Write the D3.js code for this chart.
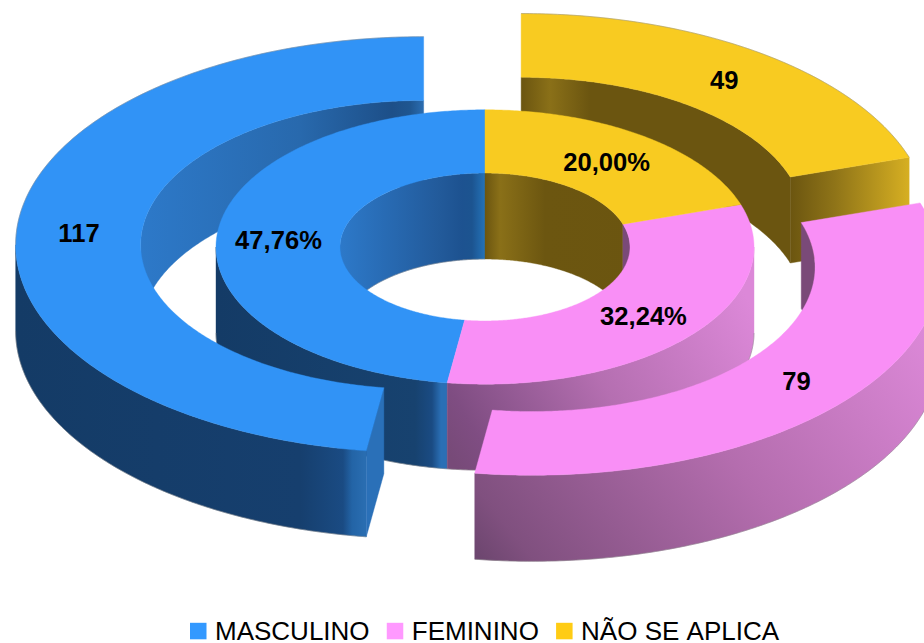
<!DOCTYPE html>
<html>
<head>
<meta charset="utf-8">
<script src="https://cdn.jsdelivr.net/npm/d3@7"></script>
<style>
  html, body { margin: 0; padding: 0; background: #fff; }
  text { font-family: "Liberation Sans", Arial, sans-serif; fill: #000; }
</style>
</head>
<body>
<div class="chart"></div>
<script>
// Chart values
const categories = ["MASCULINO", "FEMININO", "NÃO SE APLICA"];
const counts = [117, 79, 49];
const percentLabels = ["47,76%", "32,24%", "20,00%"];

const topColors = ["#3193f6", "#f98ff6", "#f8cb21"];
const legendColors = ["#3399ff", "#ff99ff", "#ffcc14"];

const width = 924;
const height = 643;

// Projection of the tilted rings
const center = { x: 485, y: 247 };
const tilt = 0.51;
const depth = 86;
const explode = 61.5;
const innerRing = { ri: 145, ro: 269 };
const outerRing = { ri: 283, ro: 408 };

const svg = d3.select(".chart")
  .append("svg")
  .attr("width", width)
  .attr("height", height)
  .style("display", "block");

const defs = svg.append("defs");

// Horizontal or slanted gradient in page coordinates
function gradient(id, x1, y1, x2, y2, stops) {
  const g = defs.append("linearGradient")
    .attr("id", id)
    .attr("gradientUnits", "userSpaceOnUse")
    .attr("x1", x1).attr("y1", y1)
    .attr("x2", x2).attr("y2", y2);
  stops.forEach(s => g.append("stop").attr("offset", s[0]).attr("stop-color", s[1]));
  return `url(#${id})`;
}

const span = (a, b) => d3.scaleLinear().domain([a, b]).range([0, 1]);

const sx = span(15, 366);
const blueOuterWall = gradient("bow", 15, 0, 366, 0, [[0, "#143b66"], [sx(300), "#163f6e"], [sx(343), "#1a4b83"], [sx(352), "#2364a6"], [1, "#2a6eb2"]]);
const ix = span(216, 447);
const blueInnerWall = gradient("biw", 216, 0, 447, 0, [[0, "#143b66"], [ix(415), "#17426f"], [ix(432), "#1a4b83"], [ix(441), "#2a6fb5"], [1, "#2a6fb5"]]);
const hx = span(140, 423);
const blueOuterHole = gradient("boh", 140, 0, 423, 0, [[0, "#2d79c9"], [hx(300), "#2869ad"], [hx(392), "#1d4f88"], [hx(410), "#1f5690"], [1, "#2a6cb0"]]);
const jx = span(340, 485);
const blueInnerHole = gradient("bih", 340, 0, 485, 0, [[0, "#2d79c9"], [jx(440), "#225a9a"], [jx(462), "#1d5290"], [jx(472), "#1c5490"], [1, "#2472b8"]]);
const pinkOuterWall = gradient("pow", 925, 290, 520, 610, [[0, "#e08bdc"], [0.5, "#b46dae"], [0.92, "#80507f"], [1, "#6d466f"]]);
const pinkInnerWall = gradient("piw", 760, 320, 470, 490, [[0, "#dc88d8"], [0.5, "#b56fb1"], [0.9, "#7f4d82"], [1, "#774a78"]]);
const pinkHole = gradient("ph", 622, 0, 815, 0, [[0, "#7a4a78"], [1, "#7a4a78"]]);
const yx = span(521, 700);
const yellowOuterHole = gradient("yoh", 521, 0, 700, 0, [[0, "#6b5510"], [yx(550), "#8a7018"], [yx(590), "#6b5510"], [1, "#6b5510"]]);
const zx = span(485, 640);
const yellowInnerHole = gradient("yih", 485, 0, 640, 0, [[0, "#6b5510"], [zx(500), "#8a7018"], [zx(545), "#6c5610"], [1, "#6b5510"]]);
const yellowCap = gradient("yc", 790, 0, 909, 0, [[0, "#6b5510"], [span(790, 909)(835), "#8f7418"], [1, "#d6af22"]]);

// Slices run clockwise on screen from 12 o'clock, blue comes first going backwards
const pie = d3.pie().sort(null).startAngle(2 * Math.PI).endAngle(0);
const slices = pie(counts);

const line = d3.line();

function point(c, a, r, z) {
  return [c.x + r * Math.sin(a), c.y - r * tilt * Math.cos(a) + z];
}

function arcPoints(c, a0, a1, r, z) {
  const n = Math.max(2, Math.ceil(Math.abs(a1 - a0) / 0.01));
  return d3.range(n + 1).map(i => point(c, a0 + (a1 - a0) * i / n, r, z));
}

function topPath(c, a0, a1, ring) {
  return line(arcPoints(c, a0, a1, ring.ro, 0).concat(arcPoints(c, a1, a0, ring.ri, 0))) + "Z";
}

function wallPath(c, a0, a1, r) {
  return line(arcPoints(c, a0, a1, r, 0).concat(arcPoints(c, a1, a0, r, depth))) + "Z";
}

function capPath(c, a, ring) {
  return line([point(c, a, ring.ri, 0), point(c, a, ring.ro, 0), point(c, a, ring.ro, depth), point(c, a, ring.ri, depth)]) + "Z";
}

function sliceInfo(i, exploded) {
  const d = slices[i];
  const low = d.endAngle;
  const high = d.startAngle;
  const mid = (low + high) / 2;
  const e = exploded ? explode : 0;
  return {
    low, high, mid,
    c: { x: center.x + e * Math.sin(mid), y: center.y - e * tilt * Math.cos(mid) }
  };
}

function drawPath(d, fill) {
  svg.append("path")
    .attr("d", d)
    .attr("fill", fill)
    .attr("stroke", fill)
    .attr("stroke-width", 0.4);
}

// Thin grey line along the outline of a shape
function drawEdge(pts) {
  svg.append("path")
    .attr("d", line(pts))
    .attr("fill", "none")
    .attr("stroke", "#8a8a8a")
    .attr("stroke-width", 0.7)
    .attr("stroke-opacity", 0.7);
}

// The hole wall shows on the back half, the rim on the front half
function drawHole(s, ring, fill) {
  const q1 = Math.PI / 2;
  const q3 = 3 * Math.PI / 2;
  if (s.low < q1) drawPath(wallPath(s.c, s.low, Math.min(s.high, q1), ring.ri), fill);
  if (s.high > q3) drawPath(wallPath(s.c, Math.max(s.low, q3), s.high, ring.ri), fill);
}

function drawRim(s, ring, fill) {
  const a0 = Math.max(s.low, Math.PI / 2);
  const a1 = Math.min(s.high, 3 * Math.PI / 2);
  if (a1 > a0) {
    drawPath(wallPath(s.c, a0, a1, ring.ro), fill);
    drawEdge(arcPoints(s.c, a0, a1, ring.ro, depth));
  }
}

const blueOut = sliceInfo(0, true);
const pinkOut = sliceInfo(1, true);
const yellowOut = sliceInfo(2, true);
const blueIn = sliceInfo(0, false);
const pinkIn = sliceInfo(1, false);
const yellowIn = sliceInfo(2, false);

// Back to front
drawHole(yellowOut, outerRing, yellowOuterHole);
drawPath(capPath(yellowOut.c, yellowOut.high, outerRing), yellowCap);
drawPath(topPath(yellowOut.c, yellowOut.low, yellowOut.high, outerRing), topColors[2]);
drawEdge(arcPoints(yellowOut.c, yellowOut.low, yellowOut.high, outerRing.ro, 0));

drawHole(blueOut, outerRing, blueOuterHole);

drawHole(blueIn, innerRing, blueInnerHole);
drawHole(yellowIn, innerRing, yellowInnerHole);
drawHole(pinkIn, innerRing, pinkHole);
drawEdge(arcPoints(blueIn.c, blueIn.high, yellowIn.high, innerRing.ri, depth));
drawRim(blueIn, innerRing, blueInnerWall);
drawRim(pinkIn, innerRing, pinkInnerWall);
drawPath(topPath(blueIn.c, blueIn.low, blueIn.high, innerRing), topColors[0]);
drawPath(topPath(pinkIn.c, pinkIn.low, pinkIn.high, innerRing), topColors[1]);
drawPath(topPath(yellowIn.c, yellowIn.low, yellowIn.high, innerRing), topColors[2]);

drawRim(blueOut, outerRing, blueOuterWall);
drawPath(capPath(blueOut.c, blueOut.low, outerRing), "#2a70b8");
drawPath(topPath(blueOut.c, blueOut.low, blueOut.high, outerRing), topColors[0]);
drawEdge(arcPoints(blueOut.c, Math.PI * 1.5, blueOut.high, outerRing.ro, 0));

drawHole(pinkOut, outerRing, pinkHole);
drawRim(pinkOut, outerRing, pinkOuterWall);
drawPath(topPath(pinkOut.c, pinkOut.low, pinkOut.high, outerRing), topColors[1]);

// Data labels sit halfway across each ring
function addLabel(s, ring, label) {
  const p = point(s.c, s.mid, (ring.ri + ring.ro) / 2, 0);
  svg.append("text")
    .attr("x", p[0])
    .attr("y", p[1] + 0.8)
    .attr("dy", "0.35em")
    .attr("text-anchor", "middle")
    .attr("font-size", 25.6)
    .attr("font-weight", "bold")
    .text(label);
}

[blueOut, pinkOut, yellowOut].forEach((s, i) => addLabel(s, outerRing, counts[i]));
[blueIn, pinkIn, yellowIn].forEach((s, i) => addLabel(s, innerRing, percentLabels[i]));

// Legend
let legendX = 190;
categories.forEach((name, i) => {
  svg.append("rect")
    .attr("x", legendX)
    .attr("y", 622.8)
    .attr("width", 16.5)
    .attr("height", 16.5)
    .attr("fill", legendColors[i]);
  const t = svg.append("text")
    .attr("x", legendX + 25)
    .attr("y", 639.5)
    .attr("font-size", 26)
    .style("font-kerning", "none")
    .text(name);
  legendX += 25 + t.node().getComputedTextLength() + 17.2;
});
</script>
</body>
</html>
